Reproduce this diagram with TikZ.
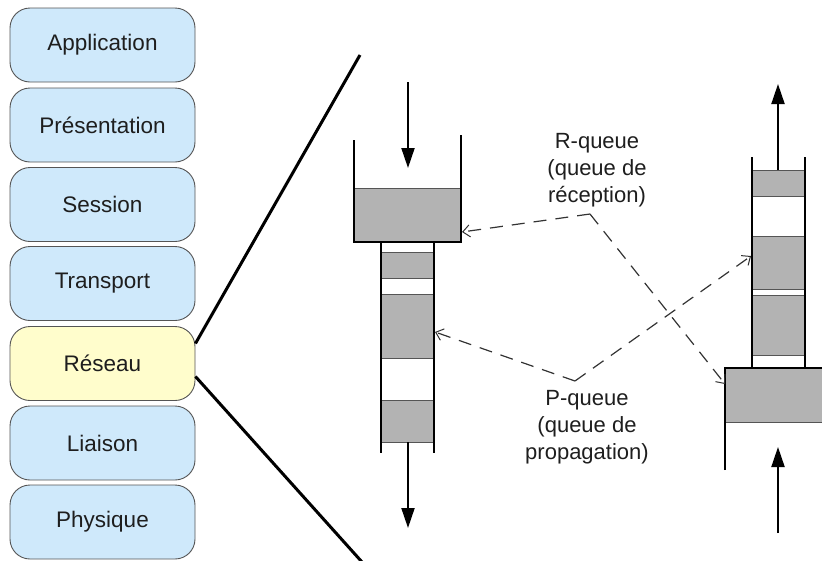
\documentclass[tikz,border=0pt]{standalone}
\usepackage{fontspec}
\setmainfont{Liberation Sans}
\usetikzlibrary{arrows.meta}
\definecolor{layerblue}{HTML}{CFE9FB}
\definecolor{layeryellow}{HTML}{FFFDCC}
\definecolor{layerborder}{HTML}{555555}
\definecolor{blockgrey}{HTML}{B3B3B3}
\definecolor{blockborder}{HTML}{555555}
\definecolor{txt}{HTML}{1E1E1E}
\definecolor{dashgrey}{HTML}{333333}
\tikzset{
  layer/.style={draw=layerborder, line width=0.9pt, rounded corners=20pt,
    minimum width=185pt, minimum height=74pt, inner sep=0pt,
    font=\fontsize{22.5}{27}\selectfont, text=txt, fill=layerblue},
  block/.style={draw=blockborder, line width=1pt, fill=blockgrey},
  wall/.style={line width=2pt, black},
  flow/.style={line width=2pt, black, -{Triangle[length=20pt,width=13pt]}},
  zoomline/.style={line width=3pt, black},
  link/.style={dashgrey, line width=1.2pt, dash pattern=on 13pt off 9pt,
    -{Straight Barb[length=7pt,width=12pt,line width=1pt]}},
  lbl/.style={align=center, font=\fontsize{22}{27}\selectfont, text=txt, inner sep=0pt}
}
\begin{document}
\begin{tikzpicture}[x=1pt,y=-1pt]
\useasboundingbox (0,0) rectangle (822,560);
\clip (0,0) rectangle (822,560);
% OSI layers
\node[layer] (app) at (102.5,45) {Application};
\node[layer] (pres) at (102.5,125) {Présentation};
\node[layer] (sess) at (102.5,204.5) {Session};
\node[layer] (trans) at (102.5,283.5) {Transport};
\node[layer, fill=layeryellow] (reseau) at (102.5,363.5) {Réseau};
\node[layer] (liaison) at (102.5,443) {Liaison};
\node[layer] (phys) at (102.5,522) {Physique};
% zoom lines
\coordinate (zt) at (360,55);
\coordinate (zb) at (362,562);
\draw[zoomline] ([yshift=20pt]reseau.east) -- (zt);
\draw[zoomline] ([yshift=-13pt]reseau.east) -- (zb);

% ---- left queue (R-queue side) ----
\draw[block] (354,188) rectangle (461,242);
\draw[wall] (354,140) -- (354,242) -- (461,242) -- (461,135);
\draw[block] (381,252) rectangle (434,278);
\draw[block] (381,294) rectangle (434,358);
\draw[block] (381,400) rectangle (434,442);
\draw[wall] (381,242) -- (381,453);
\draw[wall] (434,242) -- (434,453);
\coordinate (lin) at (408,82);
\coordinate (linend) at (408,168);
\coordinate (lout) at (408,442);
\coordinate (loutend) at (408,528);
\draw[flow] (lin) -- (linend);
\draw[flow] (lout) -- (loutend);

% ---- right queue ----
\draw[block] (752,170) rectangle (805,196);
\draw[block] (752,236) rectangle (805,289);
\draw[block] (752,295) rectangle (805,355);
\draw[block] (725,368) rectangle (832,422);
\draw[wall] (752,157) -- (752,368);
\draw[wall] (805,157) -- (805,368);
\draw[wall] (725,470) -- (725,368) -- (832,368);
\coordinate (rout) at (778,170);
\coordinate (routend) at (778,84);
\coordinate (rin) at (778,533);
\coordinate (rinend) at (778,447);
\draw[flow] (rout) -- (routend);
\draw[flow] (rin) -- (rinend);

% ---- labels and dashed links ----
\node[lbl] (rq) at (597,170) {R-queue\\(queue de\\réception)};
\node[lbl] (pq) at (587,427) {P-queue\\(queue de\\propagation)};
\coordinate (rj) at (590,214);
\coordinate (pj) at (575,381);
\coordinate (rtipA) at (462,232);
\coordinate (rtipB) at (725,384);
\coordinate (ptipA) at (435,332);
\coordinate (ptipB) at (751,256);
\draw[link] (rj) -- (rtipA);
\draw[link] (rj) -- (rtipB);
\draw[link] (pj) -- (ptipA);
\draw[link] (pj) -- (ptipB);
\end{tikzpicture}
\end{document}
